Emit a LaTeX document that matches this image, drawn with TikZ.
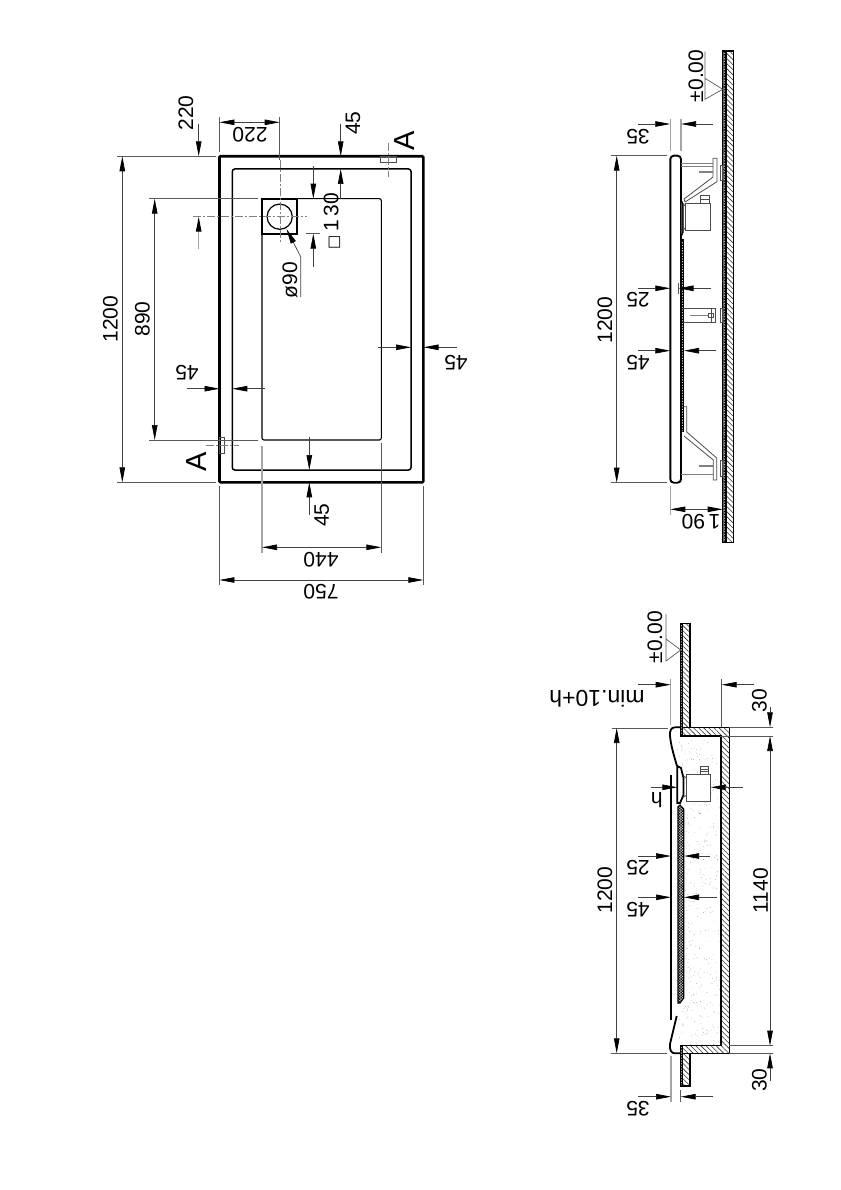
\documentclass[tikz,border=0pt]{standalone}
\usepackage{fontspec}
\setmainfont{Liberation Sans}
\newfontfamily\symbfont{DejaVu Sans}
\usetikzlibrary{arrows.meta,patterns.meta}
\tikzset{
  >={Triangle[length=15pt,width=5.5pt,fill=black,color=black]},
  dim/.style={line width=0.7pt, black!75},
  ext/.style={line width=0.7pt, black!65},
  extgray/.style={line width=1.1pt, black!35},
  axis/.style={line width=0.4pt, black!50, dash pattern=on 8pt off 2pt on 2pt off 2pt},
  label/.style={font=\fontsize{21}{24}\selectfont, inner sep=0pt},
  bigA/.style={font=\fontsize{29}{32}\selectfont, inner sep=0pt, rotate=90},
  outl/.style={line width=1.8pt, black},
  part/.style={line width=0.8pt, black!70},
  hatch/.style={draw=black, line width=1.3pt, pattern={Lines[angle=-45,distance=3.6pt,line width=0.6pt]}, pattern color=black!80},
  band/.style={draw=black, line width=1.1pt, pattern={Hatch[angle=45,distance=1.9pt,line width=0.6pt]}, pattern color=black},
}
\begin{document}
\begin{tikzpicture}[x=1pt,y=-1pt]
  \useasboundingbox (0,0) rectangle (840,1190);

  % plan
  \draw[line width=2.6pt, rounded corners=1pt] (219.5,156.3) rectangle (423.3,482.3);
  \draw[line width=1.5pt, rounded corners=2.5pt] (232.3,169) rectangle (411,470);
  \draw[line width=1.1pt, rounded corners=2pt] (262,198.7) rectangle (381.3,440);
  \fill[white] (262,198.7) rectangle (297.3,233.7);
  \draw[line width=2.2pt] (262,198.7) rectangle (297.3,233.7);
  \draw[line width=1.2pt] (279.7,216.7) circle (12.6);
  \fill (279.7,216.7) circle (0.6);
  \draw[axis] (193,216.7) -- (307,216.7);
  \draw[axis] (279.7,160) -- (279.7,243);
  \draw[ext] (279.7,117) -- (279.7,160);

  \draw[part] (380,156.3) rectangle (396.7,162);
  \draw[axis] (388,143) -- (388,177);
  \draw[part] (219.5,437) rectangle (224.3,453);
  \draw[axis] (206,445.3) -- (239,445.3);
  \node[bigA] (markA) at (405,141) {A};
  \node[bigA] (markB) at (197,461.5) {A};

  % plan, dimensions
  \draw[ext] (219.4,117) -- (219.4,152);
  \draw[dim, <->] (219.4,122.3) -- (279.7,122.3);
  \node[label, rotate=180] at (250,135) {220};
  \draw[dim, ->] (198.7,124) -- (198.7,156.3);
  \draw[extgray, ->] (198.7,249) -- (198.7,216.7);
  \node[label, rotate=90] at (186,113) {220};

  \draw[dim, ->] (340.7,124) -- (340.7,156.3);
  \draw[dim, ->] (340.7,199) -- (340.7,169);
  \node[label, rotate=90] at (353,123) {45};

  \draw[dim, ->] (313.3,166) -- (313.3,198.7);
  \draw[dim, ->] (313.3,267) -- (313.3,233.7);
  \draw[ext] (306,233.7) -- (320,233.7);
  \node[label, rotate=90] at (332,221) {{\symbfont\fontsize{15}{18}\selectfont □}\,1\,30};

  \draw[dim, ->] (300.7,297) -- (300.7,256.7) -- (286.5,229);
  \node[label, rotate=90] at (290,280) {ø90};

  \draw[ext] (117,156.3) -- (216,156.3);
  \draw[ext] (117,482.3) -- (216,482.3);
  \draw[dim, <->] (122.3,156.3) -- (122.3,482.3);
  \node[label, rotate=90] at (110.5,319) {1200};

  \draw[ext] (149,198.7) -- (258,198.7);
  \draw[ext] (149,440) -- (258,440);
  \draw[dim, <->] (154.7,198.7) -- (154.7,440);
  \node[label, rotate=90] at (142.5,319) {890};

  \draw[dim, ->] (378,347.3) -- (411,347.3);
  \draw[dim, ->] (456.7,347.3) -- (423.5,347.3);
  \node[label, rotate=180] at (456,363) {45};
  \draw[dim, ->] (187,388.7) -- (219.5,388.7);
  \draw[dim, ->] (265,388.7) -- (232.3,388.7);
  \node[label, rotate=180] at (187,372.7) {45};
  \draw[dim, ->] (309.3,437) -- (309.3,470);
  \draw[dim, ->] (309.3,515) -- (309.3,482.3);
  \node[label, rotate=90] at (321.7,515) {45};

  \draw[extgray] (262,446) -- (262,553);
  \draw[ext] (381.3,443) -- (381.3,553);
  \draw[dim, <->] (262,547.3) -- (381.3,547.3);
  \node[label, rotate=180] at (321,560) {440};
  \draw[ext] (219.4,486) -- (219.4,585);
  \draw[ext] (423.3,486) -- (423.3,585);
  \draw[dim, <->] (219.4,580) -- (423.3,580);
  \node[label, rotate=180] at (321,592) {750};

  % section on the wall
  \draw[hatch] (726,51) rectangle (733.7,542.3);
  \draw[band] (722.7,51) rectangle (726,542.3);
  \draw[ext] (705,51.7) -- (705,99.3) -- (722.7,89.3) -- (705,78.3);
  \node[label, rotate=90] at (696,76) {±0.00};

  \draw[line width=1.9pt, rounded corners=3.5pt] (670.3,155.7) rectangle (681,482.7);
  \draw[band] (681,240) rectangle (683.7,431.7);
  \draw[line width=1.3pt, fill=black!70] (681,200) -- (683,204) -- (683,232) -- (681,236.7);

  % brackets
  \draw[part, black!50] (681,163.5) -- (713,163.5) (681,166) -- (713,166);
  \draw[part, fill=white] (713,158.3) -- (717,158.3) -- (717,181.7) -- (685,202) -- (684,199) -- (713,177) -- cycle;
  \draw[part, line width=1.6pt, black!50] (699.3,172) -- (713,172);
  \draw[part] (720.7,165) rectangle (722.7,180);
  \draw[part, fill=white] (685,203.3) rectangle (710.7,230.7);
  \draw[part] (683,203.3) -- (685,206) (683,230.7) -- (685,228);
  \draw[part] (700.7,195) rectangle (709.3,203.3);
  \draw[part] (700.7,199) -- (709.3,199);

  \draw[part] (683,308) -- (715,308);
  \draw[part] (683,322) -- (715,322);
  \draw[part] (711.7,308) rectangle (715,322);
  \draw[part] (708,313) rectangle (713,317);
  \draw[part, black!50] (690,315) -- (708,315);
  \draw[part] (720.7,308.3) rectangle (722.7,322);

  \draw[part] (683.7,406.7) -- (686.7,406.7) -- (686.7,432) -- (716.7,458) -- (716.7,480) -- (713.3,480) -- (713.3,460) -- (684,436);
  \draw[part, line width=1.6pt, black!50] (699.3,466) -- (713.3,466);
  \draw[part, black!50] (681,474.3) -- (713.3,474.3);
  \draw[part] (720.7,460) rectangle (722.7,476);

  % section on the wall, dimensions
  \draw[extgray] (670.3,119) -- (670.3,151);
  \draw[extgray] (681,119) -- (681,151);
  \draw[dim, ->] (638,124) -- (670.3,124);
  \draw[dim, ->] (713,124) -- (681,124);
  \node[label, rotate=180] at (638,137) {35};
  \draw[ext] (611,155.7) -- (667,155.7);
  \draw[ext] (611,482.7) -- (667,482.7);
  \draw[dim, <->] (616.7,155.7) -- (616.7,482.7);
  \node[label, rotate=90] at (605,320) {1200};
  \draw[dim, ->] (638,288.3) -- (670.3,288.3);
  \draw[dim, ->] (711,288.3) -- (678.5,288.3);
  \draw[ext] (678,283) -- (678,294);
  \node[label, rotate=180] at (638,300) {25};
  \draw[dim, ->] (638,350.7) -- (670.3,350.7);
  \draw[dim, ->] (716,350.7) -- (684,350.7);
  \node[label, rotate=180] at (638,363) {45};
  \draw[extgray] (670.3,486) -- (670.3,515);
  \draw[dim, <->] (670.3,509.3) -- (722.7,509.3);
  \node[label, rotate=180] at (701,522) {1\,90};

  % section in the floor, foam first
  \pgfmathsetseed{7}
  \foreach \xa/\xb/\ya/\yb/\num in {685/720/738/1045/330, 677/684/742/765/8, 678/684/1008/1044/10} {
    \foreach \i in {1,...,\num} {
      \pgfmathsetmacro\px{\xa+(\xb-\xa)*rnd}
      \pgfmathsetmacro\py{\ya+(\yb-\ya)*rnd}
      \fill[black!45] (\px,\py) circle (0.35);
    }
  }

  \draw[hatch] (682.7,623.3) rectangle (690,727.3);
  \draw[band] (680.7,623.3) rectangle (682.7,736);
  \draw[hatch] (682.7,1053.3) rectangle (690,1086);
  \draw[band] (680.7,1045.7) rectangle (682.7,1086);
  \draw[hatch, line join=miter] (682.7,727.3) -- (729.3,727.3) -- (729.3,1053.3) -- (682.7,1053.3) -- (682.7,1045.7) -- (721,1045.7) -- (721,736) -- (682.7,736) -- cycle;
  \draw[ext] (666,614) -- (666,661) -- (680.7,650) -- (666,639);
  \node[label, rotate=90] at (655,637) {±0.00};

  \draw[outl] (680.7,727.3) -- (675,727.3) .. controls (671,727.3) and (669.5,731) .. (670,736) .. controls (671,746) and (674,756) .. (677,766);
  \draw[outl] (671,775) -- (671,1020);
  \draw[outl] (676.7,1016) -- (670,1044) .. controls (669.5,1050) and (671,1053.3) .. (675,1053.3) -- (680.7,1053.3);
  \draw[band] (678,806.7) -- (680,805) -- (683.7,809) -- (683.7,998) -- (680,1003) -- (678,1003) -- cycle;
  \draw[line width=1.8pt, fill=white] (677.3,766) -- (681,768) -- (683.5,778) -- (683.5,795) -- (680,803) -- (677.3,803) -- cycle;
  \draw[part, fill=white] (686.7,774) rectangle (710.7,801);
  \draw[part] (683.5,776) -- (686.7,778) (683.5,797) -- (686.7,795);
  \draw[part] (700.7,766) rectangle (708,774);
  \draw[part] (700.7,769) -- (708,769) (700.7,771.5) -- (708,771.5);

  % section in the floor, dimensions
  \draw[extgray] (670.7,679) -- (670.7,725);
  \draw[ext] (721.7,679) -- (721.7,727);
  \draw[dim, ->] (638,684.7) -- (670.7,684.7);
  \draw[dim, ->] (754,684.7) -- (721.7,684.7);
  \node[label, font=\fontsize{23}{26}\selectfont, rotate=180] at (597,698.3) {min.10+h};
  \draw[ext] (729,727.3) -- (773,727.3);
  \draw[ext] (720,736) -- (773,736);
  \draw[ext] (729,1045.7) -- (773,1045.7);
  \draw[ext] (729,1053.3) -- (773,1053.3);
  \draw[dim, ->] (770,706.7) -- (770,727.3);
  \draw[dim, <->] (770,736) -- (770,1045.7);
  \draw[dim, ->] (770,1081) -- (770,1053.3);
  \node[label, rotate=90] at (759.3,700.7) {30};
  \node[label, rotate=90] at (760.7,890.7) {1140};
  \node[label, rotate=90] at (759.3,1080) {30};
  \draw[ext] (611.7,728) -- (668,728);
  \draw[ext] (611,1053.3) -- (667,1053.3);
  \draw[dim, <->] (616.7,728) -- (616.7,1053.3);
  \node[label, rotate=90] at (605,890) {1200};
  \draw[dim, ->] (651,787.3) -- (677.3,787.3);
  \draw[dim, ->] (743,787.3) -- (710.7,787.3);
  \node[label, rotate=180] at (656.7,800) {h};
  \draw[dim, ->] (638,856) -- (671,856);
  \draw[dim, ->] (710,856) -- (684,856);
  \node[label, rotate=180] at (638,868) {25};
  \draw[dim, ->] (638,897.3) -- (671,897.3);
  \draw[dim, ->] (716.7,897.3) -- (684,897.3);
  \node[label, rotate=180] at (638,910) {45};
  \draw[extgray] (671,1056) -- (671,1102);
  \draw[ext] (680.7,1090) -- (680.7,1102);
  \draw[dim, ->] (638,1096.7) -- (671,1096.7);
  \draw[dim, ->] (713.3,1096.7) -- (680.7,1096.7);
  \node[label, rotate=180] at (638,1109) {35};
\end{tikzpicture}
\end{document}
